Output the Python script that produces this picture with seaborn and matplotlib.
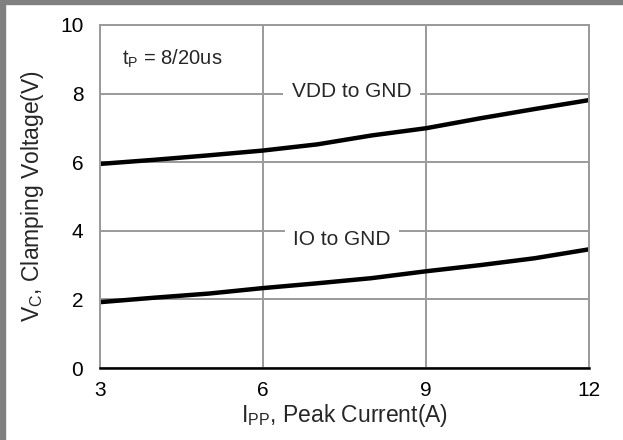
import matplotlib
matplotlib.use("Agg")
import matplotlib.pyplot as plt
import matplotlib.patches as mpatches
import seaborn as sns
import pandas as pd

# values
current = [3, 4, 5, 6, 7, 8, 9, 10, 11, 12]
vdd_gnd = [5.95, 6.07, 6.2, 6.34, 6.52, 6.78, 6.99, 7.28, 7.55, 7.81]
io_gnd = [1.92, 2.05, 2.17, 2.33, 2.47, 2.62, 2.82, 3.0, 3.2, 3.46]
x_ticks = [3, 6, 9, 12]
y_ticks = [0, 2, 4, 6, 8, 10]

df = pd.DataFrame({
    'I': current * 2,
    'V': vdd_gnd + io_gnd,
    'pair': ['VDD to GND'] * len(current) + ['IO to GND'] * len(current),
})

sns.set_style("white")
plt.rcParams['font.family'] = ['Liberation Sans', 'DejaVu Sans']
plt.rcParams['mathtext.fontset'] = 'custom'
plt.rcParams['mathtext.rm'] = 'Liberation Sans'
plt.rcParams['mathtext.it'] = 'Liberation Sans'

fig = plt.figure(figsize=(6.23, 4.40), dpi=100)
ax = fig.add_axes([0.1605, 0.1636, 0.7849, 0.7796])

sns.lineplot(data=df, x='I', y='V', units='pair', estimator=None,
             color='black', linewidth=3.2, ax=ax, legend=False)

ax.set_xlim(3, 12)
ax.set_ylim(0, 10)
ax.set_xticks(x_ticks)
ax.set_yticks(y_ticks)
ax.grid(True, color='#9a9a9a', linewidth=1.4)
ax.set_axisbelow(True)
ax.tick_params(length=0, labelsize=15, colors='black')
ax.tick_params(axis='y', pad=12)
ax.tick_params(axis='x', pad=9)
for s in ['left', 'top', 'right']:
    ax.spines[s].set_color('#9a9a9a')
    ax.spines[s].set_linewidth(1.4)
ax.spines['bottom'].set_color('black')
ax.spines['bottom'].set_linewidth(1.8)

ax.set_xlabel(r'I$_{\mathrm{PP}}$, Peak Current(A)', fontsize=16.5, labelpad=2)
ax.set_ylabel(r'V$_{\mathrm{C}}$, Clamping Voltage(V)', fontsize=16.5, labelpad=10)

ax.text(3.4, 9.0, r't$_{\mathrm{P}}$ = 8/20us', fontsize=14.5, va='center')
box = dict(facecolor='white', edgecolor='none', pad=6)
ax.text(7.63, 8.05, 'VDD to GND', fontsize=15, ha='center', va='center', bbox=box)
ax.text(7.45, 3.75, 'IO to GND', fontsize=15, ha='center', va='center', bbox=box)

# gray frame on the left and top edges
fig.patches.append(mpatches.Rectangle((0, 0), 5 / 623, 1, transform=fig.transFigure,
                                      color='#808080', zorder=0))
fig.patches.append(mpatches.Rectangle((0, 1 - 4 / 440), 1, 4 / 440, transform=fig.transFigure,
                                      color='#808080', zorder=0))

plt.savefig('out.png', dpi=100)
